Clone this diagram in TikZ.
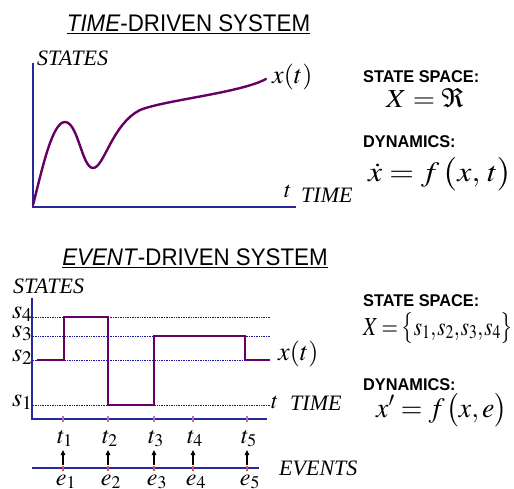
\documentclass[tikz,border=0pt]{standalone}
\usepackage{mathptmx}
\usepackage{fontspec}
\setmainfont{Liberation Serif}
\setsansfont{Liberation Sans}
\usetikzlibrary{arrows.meta}
\definecolor{axisblue}{RGB}{40,40,150}
\definecolor{dotblue}{RGB}{20,20,160}
\definecolor{curvepurple}{RGB}{102,0,102}
\definecolor{tickpurple}{RGB}{190,110,190}
\definecolor{tickred}{RGB}{215,90,90}
\newcommand{\fs}[1]{\fontsize{#1}{#1}\selectfont}
\newcommand{\fitw}[2]{\resizebox{#1}{\height}{#2}}
\begin{document}
\begin{tikzpicture}[x=1pt,y=-1pt,
  title/.style={font=\sffamily\fs{24}, anchor=base, inner sep=0pt},
  uline/.style={line width=1.6pt, black},
  head/.style={font=\sffamily\bfseries\fs{17}, anchor=base west, inner sep=0pt},
  lab/.style={font=\itshape\fs{22}, inner sep=0pt},
  axis/.style={axisblue, line width=1.4pt},
  curve/.style={curvepurple, line width=2.4pt, line cap=round},
  level/.style={dotblue, line width=0.9pt, dash pattern=on 1pt off 0.7pt},
  tmark/.style={tickpurple, line width=1.1pt},
  emark/.style={tickred, line width=1.1pt},
  evarrow/.style={black, line width=1.2pt, -{Triangle[length=5pt,width=4.5pt]}}
]
\useasboundingbox (0,0) rectangle (514,488);

% ---------- TIME-DRIVEN ----------
\node[title] (ttitle) at (188.5,31) {\scalebox{0.93}[1]{\textit{TIME}-DRIVEN SYSTEM}};
\draw[uline] ([yshift=-2.5pt]ttitle.base west) -- ([yshift=-2.5pt]ttitle.base east);

\node[lab, anchor=base west] (tstates) at (37,65) {STATES};
\coordinate (o1) at (33,207);
\draw[axis] (33,63) -- (o1) -- (296,207);
\draw[curve] (33,205) .. controls (42,170) and (52,122) .. (65,122)
  .. controls (78,122) and (82,168) .. (93,168)
  .. controls (104,168) and (112,124) .. (140,110)
  .. controls (165,100) and (240,93) .. (266,79);
\node[anchor=base west, inner sep=0pt, font=\fs{26}] (txt) at (272,83) {$x(t)$};
\node[anchor=base west, inner sep=0pt, font=\fs{23}] (tt) at (284,197) {$t$};
\node[lab, anchor=base west] (ttime) at (301,202) {TIME};

\node[head] (tss) at (363,82) {\scalebox{0.96}[1]{STATE SPACE:}};
\node[anchor=base west, inner sep=0pt, font=\fs{26}] (tX) at (386,107) {\fitw{78pt}{$X = \Re$}};
\node[head] (tdyn) at (363,147) {\scalebox{0.96}[1]{DYNAMICS:}};
\node[anchor=base west, inner sep=0pt, font=\fs{28}] (tf) at (368,181) {\fitw{144pt}{$\dot{x} = f\mkern2mu\bigl(x,\mkern2mu t\bigr)$}};

% ---------- EVENT-DRIVEN ----------
\node[title] (etitle) at (195,265) {\scalebox{0.93}[1]{\textit{EVENT}-DRIVEN SYSTEM}};
\draw[uline] ([yshift=-2.5pt]etitle.base west) -- ([yshift=-2.5pt]etitle.base east);

\node[lab, anchor=base west] (estates) at (13,293) {STATES};
\coordinate (o2) at (32,419);
\draw[axis] (32,298) -- (o2) -- (267,419);

\foreach \n/\y in {4/317,3/336,2/360,1/405}{
  \draw[level] (33,\y) -- (270,\y);
  \node[anchor=base east, inner sep=0pt, font=\fs{26}] (s\n) at (32.5,\y+1) {$s_{\n}$};
}
\draw[curve, line cap=butt] (37,360) -| (64,317) -| (108,405) -| (154,336) -| (245,360) -- (270,360);

\node[anchor=base west, inner sep=0pt, font=\fs{26}] (exs) at (278,360) {$x(t)$};
\node[anchor=base west, inner sep=0pt, font=\fs{23}] (et) at (271,408) {$t$};
\node[lab, anchor=base west] (etime) at (290,410) {TIME};

% event axis
\draw[axis] (32,468) -- (259,468);
\foreach \i/\x in {1/63,2/108,3/154,4/193,5/247}{
  \draw[tmark] (\x,416) -- (\x,422);
  \draw[emark] (\x,466) -- (\x,471);
  \node[anchor=base, inner sep=0pt, font=\fs{24}] (t\i) at (\x+2,443) {$t_{\i}$};
  \node[anchor=base, inner sep=0pt, font=\fs{24}] (e\i) at (\x+3,485) {$e_{\i}$};
  \draw[evarrow] (\x,465) -- (\x,450);
}
\node[lab, anchor=base west] (events) at (279,475) {EVENTS};

\node[head] (ess) at (363,306) {\scalebox{0.96}[1]{STATE SPACE:}};
\node[anchor=base west, inner sep=0pt, font=\fs{26}] (eX) at (363,335) {\fitw{150pt}{$X\mkern-1mu=\mkern-1mu\bigl\{s_1{,}\mkern1mu s_2{,}\mkern1mu s_3{,}\mkern1mu s_4\bigr\}$}};
\node[head] (edyn) at (363,390) {\scalebox{0.96}[1]{DYNAMICS:}};
\node[anchor=base west, inner sep=0pt, font=\fs{28}] (ef) at (376,417) {\fitw{131pt}{$x' = f\mkern1mu\bigl(x,e\bigr)$}};
\end{tikzpicture}
\end{document}
